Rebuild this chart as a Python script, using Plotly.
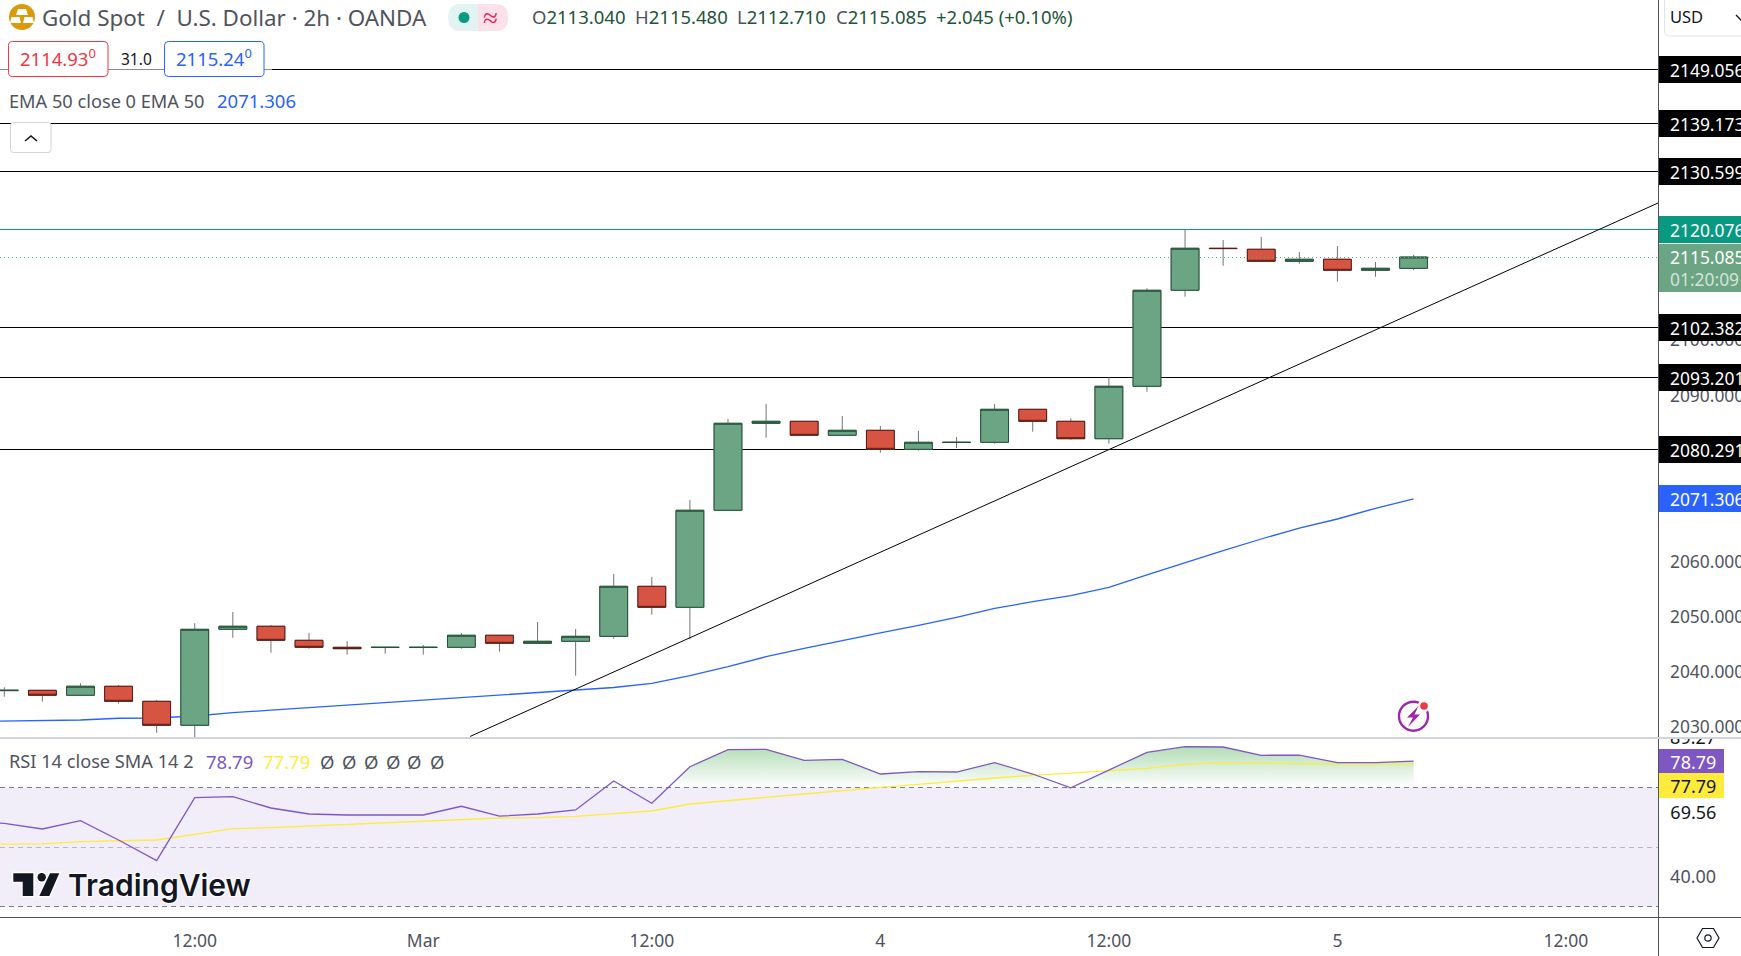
import plotly.graph_objects as go

W, H = 1741, 956
FONT = "Noto Sans"
TXT = 18.5
PRICE_TXT = 17.4
PANE_TXT = 18

bar_index = list(range(38))
open_ = [2036.62, 2036.68, 2035.78, 2037.41, 2034.69, 2030.35, 2047.72, 2048.27, 2045.73, 2044.46,
         2044.42, 2044.42, 2044.46, 2046.64, 2045.19, 2045.55, 2046.45, 2055.50, 2051.70, 2069.26,
         2085.00, 2085.36, 2082.83, 2083.73, 2080.29, 2081.52, 2081.56, 2087.53, 2085.36, 2082.21,
         2091.70, 2109.07, 2116.67, 2116.49, 2114.32, 2114.68, 2112.69, 2113.04]
high = [2037.23, 2036.68, 2037.95, 2037.64, 2034.93, 2048.81, 2050.85, 2048.50, 2047.05, 2045.60,
        2044.46, 2044.88, 2047.05, 2046.64, 2049.04, 2047.78, 2057.73, 2057.19, 2071.12, 2085.78,
        2088.49, 2085.36, 2086.32, 2084.51, 2083.61, 2082.52, 2088.49, 2087.53, 2085.90, 2093.33,
        2109.43, 2120.11, 2118.17, 2118.71, 2116.00, 2117.08, 2114.19, 2115.48]
low = [2035.53, 2034.62, 2035.78, 2034.26, 2029.01, 2027.90, 2046.20, 2043.49, 2044.21, 2043.13,
       2043.31, 2043.13, 2044.21, 2043.67, 2045.19, 2039.33, 2046.02, 2050.36, 2045.91, 2069.26,
       2082.39, 2082.83, 2082.83, 2079.68, 2080.04, 2080.53, 2081.31, 2083.48, 2082.03, 2081.31,
       2090.72, 2107.91, 2113.52, 2114.32, 2113.88, 2110.62, 2111.53, 2112.71]
close = [2036.68, 2035.78, 2037.41, 2034.69, 2030.35, 2047.72, 2048.27, 2045.73, 2044.46, 2044.21,
         2044.46, 2044.46, 2046.64, 2045.19, 2045.55, 2046.45, 2055.50, 2051.70, 2069.26, 2085.00,
         2085.36, 2082.83, 2083.73, 2080.29, 2081.56, 2081.56, 2087.53, 2085.36, 2082.21, 2091.70,
         2109.07, 2116.67, 2116.62, 2114.32, 2114.68, 2112.69, 2113.05, 2115.085]

# line studies start one bar earlier than the visible candles
study_index = list(range(-1, 38))
ema50 = [2031.03, 2031.09, 2031.20, 2031.31, 2031.62, 2031.67, 2032.03, 2032.63, 2033.08, 2033.53, 2033.99,
         2034.44, 2034.91, 2035.36, 2035.81, 2036.23, 2036.61, 2037.19, 2037.95, 2039.32, 2040.95,
         2042.76, 2044.28, 2045.71, 2047.09, 2048.43, 2049.89, 2051.49, 2052.72, 2053.80, 2055.32,
         2057.55, 2059.77, 2061.94, 2064.06, 2066.05, 2067.68, 2069.62, 2071.306]
rsi = [58.40, 57.96, 56.05, 58.83, 52.37, 45.45, 66.52, 66.86, 63.08, 61.07, 60.74,
       60.74, 60.74, 63.65, 60.33, 61.07, 62.41, 72.11, 64.65, 76.89, 82.58,
       82.71, 79.03, 79.36, 74.45, 75.22, 75.12, 78.23, 74.45, 69.83, 75.79,
       81.71, 83.58, 83.48, 80.70, 80.80, 78.23, 78.23, 78.79]
rsi_ma = [50.90, 50.94, 51.04, 51.81, 52.14, 52.37, 54.28, 56.15, 56.49, 57.06, 57.63,
          58.16, 58.83, 59.40, 59.73, 59.83, 60.30, 61.17, 62.07, 64.41, 65.42,
          66.66, 67.76, 69.00, 70.00, 71.00, 72.11, 73.11, 74.01, 74.71, 75.55,
          76.35, 77.69, 78.23, 78.03, 77.79, 77.79, 77.79, 77.79]
black_levels = [2149.056, 2139.173, 2130.599, 2102.382, 2093.201, 2080.291]
resistance_level = 2120.076
last_price = 2115.085
ema_last = 2071.306
trend_x = [12.23, 43.43]
trend_y = [2028.33, 2124.90]
price_ticks = [2040, 2050, 2060, 2070, 2090, 2100]
rsi_levels = [70, 50, 30]
time_tick_index = [5, 11, 17, 23, 29, 35, 41]
time_tick_text = ["12:00", "Mar", "12:00", "4", "12:00", "5", "12:00"]

GREEN, GREEN_D = "#6BA583", "#225437"
RED, RED_D = "#D75442", "#5B1A13"
WICK = "#737375"
BLUE = "#2962FF"
PURPLE = "#7E57C2"
YELLOW = "#FFEB3B"
TEAL = "#089981"
AXIS_TXT = "#50535E"

PLOT_R = 1658.5
XRANGE = [-0.113, 43.43]
YRANGE = [2028.23, 2161.60]
RSI_RANGE = [26.6, 86.5]


def P(x, y):
    return f"{x / W:.5f} {1 - y / H:.5f}"


def rrect(x0, y0, x1, y1, r):
    return (f"M{P(x0 + r, y0)} L{P(x1 - r, y0)} Q{P(x1, y0)} {P(x1, y0 + r)} L{P(x1, y1 - r)} "
            f"Q{P(x1, y1)} {P(x1 - r, y1)} L{P(x0 + r, y1)} Q{P(x0, y1)} {P(x0, y1 - r)} "
            f"L{P(x0, y0 + r)} Q{P(x0, y0)} {P(x0 + r, y0)} Z")


def poly(points):
    return "M" + " L".join(P(*p) for p in points) + " Z"


def pshape(path, fill="rgba(0,0,0,0)", line="rgba(0,0,0,0)", lw=0):
    return dict(type="path", xref="paper", yref="paper", path=path, fillcolor=fill,
                line=dict(color=line, width=lw), layer="above")


def pcircle(cx, cy, r, fill="rgba(0,0,0,0)", line="rgba(0,0,0,0)", lw=0):
    return dict(type="circle", xref="paper", yref="paper", x0=(cx - r) / W, x1=(cx + r) / W,
                y0=1 - (cy + r) / H, y1=1 - (cy - r) / H, fillcolor=fill,
                line=dict(color=line, width=lw), layer="above")


def pline(x0, y0, x1, y1, color, lw=1):
    return dict(type="line", xref="paper", yref="paper", x0=x0 / W, x1=x1 / W, y0=1 - y0 / H, y1=1 - y1 / H,
                line=dict(color=color, width=lw), layer="above")


def note(text, x, y, size=TXT, color=AXIS_TXT, xanchor="left", family=FONT, **kw):
    return dict(text=text, x=(x - 2 if xanchor == "left" else x) / W, y=1 - y / H, xref="paper", yref="paper",
                showarrow=False, xanchor=xanchor, yanchor="middle",
                font=dict(size=size, color=color, family=family), **kw)


def tag(text, y, bg, color="#FFFFFF", yref="y", height=23, width=92, size=PRICE_TXT):
    return dict(text=text, x=PLOT_R / W, y=y, xref="paper", yref=yref, showarrow=False, xanchor="left",
                yanchor="middle", align="left", width=width, height=height, bgcolor=bg, borderpad=2, borderwidth=0,
                font=dict(size=size, color=color, family=FONT))


def above_70_outline(xs, vals, level=70):
    out_x, out_y = [], []
    for i, (x, v) in enumerate(zip(xs, vals)):
        if i and (vals[i - 1] - level) * (v - level) < 0:
            t = (level - vals[i - 1]) / (v - vals[i - 1])
            out_x.append(xs[i - 1] + t * (x - xs[i - 1]))
            out_y.append(level)
        out_x.append(x)
        out_y.append(max(v, level))
    return out_x, out_y


fig = go.Figure()

fig.add_trace(go.Scatter(x=study_index, y=ema50, mode="lines", line=dict(color=BLUE, width=1.3),
                         xaxis="x", yaxis="y", hoverinfo="skip"))

fill_x, fill_y = above_70_outline(study_index, rsi)
fig.add_trace(go.Scatter(x=fill_x, y=[70] * len(fill_x), mode="lines", line=dict(width=0),
                         xaxis="x", yaxis="y2", hoverinfo="skip"))
fig.add_trace(go.Scatter(x=fill_x, y=fill_y, mode="lines", line=dict(width=0), fill="tonexty",
                         fillgradient=dict(type="vertical",
                                           colorscale=[[0, "rgba(76,175,80,0)"], [1, "rgba(76,175,80,0.42)"]],
                                           start=70, stop=83.6),
                         xaxis="x", yaxis="y2", hoverinfo="skip"))
fig.add_trace(go.Scatter(x=study_index, y=rsi_ma, mode="lines", line=dict(color=YELLOW, width=1.3),
                         xaxis="x", yaxis="y2", hoverinfo="skip"))
fig.add_trace(go.Scatter(x=study_index, y=rsi, mode="lines", line=dict(color=PURPLE, width=1.3),
                         xaxis="x", yaxis="y2", hoverinfo="skip"))

# wicks underneath, bodies on top (wick colour differs from the body outline)
fig.add_trace(go.Candlestick(x=bar_index, open=open_, high=high, low=low, close=close, whiskerwidth=0,
                             increasing=dict(line=dict(color=WICK, width=1), fillcolor=GREEN),
                             decreasing=dict(line=dict(color=WICK, width=1), fillcolor=RED),
                             xaxis="x3", yaxis="y3", hoverinfo="skip"))
fig.add_trace(go.Candlestick(x=bar_index, open=open_, close=close,
                             high=[max(o, c) for o, c in zip(open_, close)],
                             low=[min(o, c) for o, c in zip(open_, close)], whiskerwidth=0,
                             increasing=dict(line=dict(color=GREEN_D, width=1), fillcolor=GREEN),
                             decreasing=dict(line=dict(color=RED_D, width=1), fillcolor=RED),
                             xaxis="x3", yaxis="y3", hoverinfo="skip"))

shapes = []
for level in black_levels:
    shapes.append(dict(type="line", xref="x domain", yref="y", x0=0, x1=1, y0=level, y1=level,
                       line=dict(color="#000000", width=1), layer="below"))
shapes.append(dict(type="line", xref="x domain", yref="y", x0=0, x1=1, y0=resistance_level, y1=resistance_level,
                   line=dict(color=TEAL, width=1), layer="below"))
shapes.append(dict(type="line", xref="x domain", yref="y", x0=0, x1=1, y0=last_price, y1=last_price,
                   line=dict(color=GREEN, width=1, dash="1px,3px"), layer="above"))
shapes.append(dict(type="line", xref="x", yref="y", x0=trend_x[0], x1=trend_x[1], y0=trend_y[0], y1=trend_y[1],
                   line=dict(color="#000000", width=1), layer="above"))
shapes.append(dict(type="rect", xref="x domain", yref="y2", x0=0, x1=1, y0=rsi_levels[2], y1=rsi_levels[0],
                   fillcolor="rgba(126,87,194,0.1)", line=dict(width=0), layer="below"))
for level, col in zip(rsi_levels, ["#787B86", "#B8B9C0", "#787B86"]):
    shapes.append(dict(type="line", xref="x domain", yref="y2", x0=0, x1=1, y0=level, y1=level,
                       line=dict(color=col, width=1, dash="5px,4px"), layer="below"))

# the top RSI tick label is clipped by the pane above: a white mask hides its upper half
shapes.append(pshape(poly([(1660, 715), (1741, 715), (1741, 737), (1660, 737)]), fill="#FFFFFF"))

# frame
shapes += [pline(PLOT_R, 0, PLOT_R, H, "#50535E"), pline(0, 917.5, W, 917.5, "#50535E"),
           pline(0, 737.5, W, 737.5, "#D1D4DC", 2)]

# header icons and legend boxes
shapes += [pcircle(22, 17, 13, fill="#DA9A0B"),
           pshape(poly([(18, 9), (26, 9), (28, 15), (16, 15)]), fill="#FFFFFF"),
           pshape(poly([(11.5, 17), (19.5, 17), (21, 23), (10, 23)]), fill="#FFFFFF"),
           pshape(poly([(24.5, 17), (32.5, 17), (34, 23), (23, 23)]), fill="#FFFFFF"),
           pshape(rrect(448.5, 4, 508, 31, 13), fill="#FCE0EA"),
           pshape(f"M{P(478, 4)} L{P(461.5, 4)} Q{P(448.5, 4)} {P(448.5, 17.5)} Q{P(448.5, 31)} {P(461.5, 31)} L{P(478, 31)} Z",
                  fill="#E1F4F1"),
           pcircle(464, 17.5, 5.5, fill=TEAL),
           pshape(poly([(0, 66), (272, 66), (272, 72.5), (0, 72.5)]), fill="rgba(255,255,255,0.55)"),
           pshape(rrect(8.5, 41.5, 108, 76.5, 4), fill="#FFFFFF", line="#F23645", lw=1),
           pshape(rrect(164.5, 41.5, 264, 76.5, 4), fill="#FFFFFF", line=BLUE, lw=1),
           pshape(rrect(10.5, 122.5, 51, 152.5, 3), fill="#FFFFFF", line="#D1D4DC", lw=1),
           pshape(f"M{P(25, 141)} L{P(31, 136)} L{P(37, 141)}", line="#131722", lw=1.6),
           pshape(rrect(1664.5, -8, 1760, 36, 5), fill="#FFFFFF", line="#E0E3EB", lw=1),
           pshape(f"M{P(1736, 15)} L{P(1741, 20)} L{P(1746, 15)}", line="#131722", lw=1.4)]

# TradingView logo
LOGO_T = [(13.3, 873.3), (33.3, 873.3), (33.3, 896), (22.7, 896), (22.7, 881.7), (13.3, 881.7)]
LOGO_S = [(50, 873.3), (59.3, 873.3), (49.3, 896), (39.3, 896)]
for fill, line, lw in [("#FFFFFF", "#FFFFFF", 3), ("#131722", "#131722", 0)]:
    shapes += [pshape(poly(LOGO_T), fill=fill, line=line, lw=lw),
               pshape(poly(LOGO_S), fill=fill, line=line, lw=lw),
               pcircle(41.7, 877.3, 4.2 + lw / 2, fill=fill)]

# lightning marker
shapes += [pcircle(1413.5, 716.2, 14.5, line="#9C27B0", lw=2.4),
           pcircle(1424, 706, 6.2, fill="#FFFFFF"),
           pshape(poly([(1418.5, 706), (1407, 717.5), (1413, 717.5), (1408, 727), (1420, 714.5), (1414.5, 714.5)]),
                  fill="#9C27B0"),
           pcircle(1424, 706, 3.8, fill="#F23645")]

# settings hexagon
shapes += [pshape(poly([(1697, 938), (1702.5, 928.5), (1713.5, 928.5), (1719, 938), (1713.5, 947.5), (1702.5, 947.5)]),
                  line="#131722", lw=1.2),
           pcircle(1708, 938, 3.2, line="#131722", lw=1.2)]

val = GREEN_D
ann = [
    note("Gold Spot  /  U.S. Dollar · 2h · OANDA", 42, 17, size=22.4),
    note("≈", 490.5, 16, size=27, color="#E91E63", xanchor="center"),
    note(f'O<span style="color:{val}">2113.040</span>', 532, 16),
    note(f'H<span style="color:{val}">2115.480</span>', 634.5, 16),
    note(f'L<span style="color:{val}">2112.710</span>', 737, 16),
    note(f'C<span style="color:{val}">2115.085</span>', 836, 16),
    note("+2.045 (+0.10%)", 936, 16, color=val),
    note("2114.93<sup>0</sup>", 20, 57.5, color="#F23645"),
    note("31.0", 136.5, 59, color="#131722", size=15.5, xanchor="center"),
    note("2115.24<sup>0</sup>", 176, 57.5, color=BLUE),
    note("EMA 50 close 0 EMA 50", 9, 101, size=18.2),
    note("2071.306", 216.5, 101, color=BLUE),
    note("RSI 14 close SMA 14 2", 9, 761, size=18.2),
    note("78.79", 205.5, 761, color=PURPLE),
    note("77.79", 263, 761, color=YELLOW),
    note("USD", 1670, 16, size=16.5, color="#131722"),
    note("TradingView", 68, 885, size=30, color="#131722", family="Inter"),
]
ann[-1]["font"]["weight"] = 600
ann[-1]["font"]["shadow"] = "1px 1px 1px #fff, -1px -1px 1px #fff, 1px -1px 1px #fff, -1px 1px 1px #fff"
for x in [327, 349, 371, 393, 414, 437]:
    ann.append(note("Ø", x, 761, xanchor="center"))

ann.append(note("2030.000", 1670, 726, size=PRICE_TXT))

for level in black_levels:
    ann.append(tag(f"&nbsp;&nbsp;{level:.3f}", level, "#000000"))
ann.append(tag(f"&nbsp;&nbsp;{resistance_level:.3f}", resistance_level, TEAL))
ann.append(tag(f'&nbsp;&nbsp;{last_price:.3f}<br>&nbsp;&nbsp;<span style="color:#D3E4DA">01:20:09</span>',
               2113.1, GREEN, height=44))
ann.append(tag(f"&nbsp;&nbsp;{ema_last:.3f}", ema_last, BLUE))
ann.append(tag("&nbsp;&nbsp;78.79", 78.79, PURPLE, yref="y2", width=61, height=21, size=PANE_TXT))
ann.append(dict(tag("&nbsp;&nbsp;77.79", 0, YELLOW, color="#131722", yref="paper", width=61, height=21, size=PANE_TXT),
                y=1 - 785.5 / H))
ann.append(dict(tag("&nbsp;&nbsp;69.56", 0, "#FFFFFF", color="#131722", yref="paper", width=61, height=23, size=PANE_TXT),
                y=1 - 811.5 / H))

PX = PLOT_R / W
fig.update_layout(
    width=W, height=H, margin=dict(l=0, r=0, t=0, b=0, pad=0, autoexpand=False),
    paper_bgcolor="#FFFFFF", plot_bgcolor="#FFFFFF", showlegend=False, boxgap=0.27, boxgroupgap=0,
    font=dict(family=FONT, size=17, color=AXIS_TXT),
    xaxis=dict(domain=[0, PX], range=XRANGE, anchor="y2", tickmode="array", tickvals=time_tick_index,
               ticktext=time_tick_text, showgrid=False, zeroline=False, showline=False, ticks="outside", ticklen=8,
               tickcolor="rgba(0,0,0,0)", tickfont=dict(size=17.5, color=AXIS_TXT, family=FONT),
               rangeslider=dict(visible=False)),
    yaxis=dict(domain=[1 - 737 / H, 1], range=YRANGE, anchor="x", side="right", tickmode="array",
               tickvals=price_ticks, ticktext=[f"{t:.3f}" for t in price_ticks], showgrid=False, zeroline=False,
               showline=False, ticks="outside", ticklen=7, tickcolor="rgba(0,0,0,0)",
               tickfont=dict(size=PRICE_TXT, color=AXIS_TXT, family=FONT)),
    yaxis2=dict(domain=[1 - 917 / H, 1 - 738 / H], range=RSI_RANGE, anchor="x", side="right", tickmode="array",
                tickvals=[40, 86.5], ticktext=["40.00", '<span style="color:#131722">89.27</span>'], showgrid=False,
                zeroline=False, showline=False, ticks="outside",
                ticklen=7, tickcolor="rgba(0,0,0,0)", tickfont=dict(size=PANE_TXT, color=AXIS_TXT, family=FONT)),
    xaxis3=dict(domain=[0, PX], range=XRANGE, anchor="y3", overlaying="x", visible=False,
                rangeslider=dict(visible=False)),
    yaxis3=dict(domain=[1 - 737 / H, 1], range=YRANGE, anchor="x3", overlaying="y", visible=False),
    shapes=shapes, annotations=ann,
)

crisp_js = (
    "document.body.style.margin='0';document.documentElement.style.overflow='hidden';"
    "document.querySelectorAll('.shapelayer path').forEach(function(p){"
    "var m=(p.getAttribute('d')||'').match(/^M([\\d.-]+),([\\d.-]+)L([\\d.-]+),([\\d.-]+)$/);"
    "if(m&&(m[2]===m[4]||m[1]===m[3]))p.style.shapeRendering='crispEdges';});"
)
fig.write_html("out.html", config=dict(displayModeBar=False), post_script=crisp_js)
